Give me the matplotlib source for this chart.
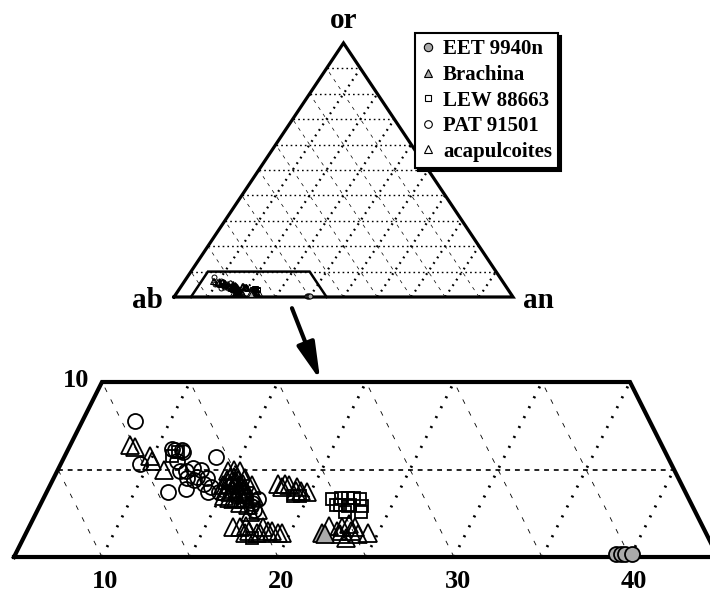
import numpy as np
import matplotlib.pyplot as plt
from matplotlib.lines import Line2D

plt.rcParams['font.family'] = 'Liberation Serif'
plt.rcParams['font.weight'] = 'bold'
plt.rcParams['lines.scale_dashes'] = False

# feldspar compositions in mol %, ab = 100 - an - or
eet_an = [39.1, 39.4, 39.6, 40.0]
eet_or = [0.2, 0.2, 0.2, 0.2]

brachina_an = [21.8, 22.0]
brachina_or = [1.4, 1.3]

lew_an = [11.1, 11.3, 19.1, 19.5, 21.4, 21.9, 22.3, 22.6, 23.0, 23.3, 23.4,
          22.0, 22.5, 22.5, 21.8, 18.0, 22.6]
lew_or = [5.8, 6.0, 3.5, 3.5, 3.3, 3.4, 3.4, 3.4, 3.3, 2.9, 2.6,
          3.0, 2.9, 2.6, 3.0, 1.1, 3.0]

pat_an = [8.0, 9.5, 11.9, 10.9, 11.5, 11.1, 11.6, 12.6, 12.3, 12.0, 12.6, 13.1,
          12.8, 13.1, 13.7, 13.7, 14.2, 13.6, 14.2, 14.8, 16.4, 17.0, 17.0, 17.2,
          17.3, 13.0, 11.5]
pat_or = [7.8, 5.3, 3.7, 6.2, 6.1, 6.1, 6.0, 5.1, 4.9, 4.9, 4.5, 4.6,
          3.9, 5.0, 4.5, 4.2, 3.7, 5.7, 4.0, 3.7, 3.5, 2.9, 3.1, 3.3,
          2.7, 4.4, 5.5]

aca_an = [8.4, 8.7, 9.8, 10.1, 11.0,
          14.8, 14.9, 15.0, 15.2, 15.5, 15.9, 15.1, 15.4, 15.5, 15.8, 16.1, 16.3,
          15.5, 15.8, 15.9, 16.3, 16.4, 16.8, 15.2, 15.2, 15.4, 15.8, 16.1, 16.5,
          16.5, 14.7, 15.0, 15.4, 15.9, 16.9, 17.5, 17.1,
          16.6, 17.0, 17.3, 17.6, 18.1, 18.3, 18.7, 18.9, 19.3, 19.5, 18.3, 17.4,
          17.9, 18.3, 18.6, 19.1, 19.4, 19.8, 18.2, 19.1,
          22.0, 22.6, 22.8, 23.1, 23.4, 23.5, 24.4, 23.3, 23.9, 22.9]
aca_or = [6.4, 6.3, 5.8, 5.5, 5.0,
          4.1, 4.4, 4.5, 4.6, 4.4, 4.2, 3.8, 3.7, 3.9, 3.8, 3.6, 3.7,
          3.4, 3.3, 3.4, 3.1, 3.3, 3.0, 3.5, 4.2, 4.3, 4.1, 3.9, 3.4,
          4.1, 4.9, 5.0, 4.9, 4.5, 3.5, 2.7, 2.6,
          1.7, 1.7, 1.8, 1.5, 1.4, 1.7, 1.5, 1.5, 1.4, 1.4, 1.4, 1.4,
          4.2, 4.2, 4.1, 4.0, 3.8, 3.7, 4.0, 3.8,
          1.8, 1.5, 1.7, 1.9, 1.5, 1.7, 1.4, 1.1, 1.3, 1.3]

GRAY = '#aaaaaa'
# name, an, or, marker, fill, size in the enlarged panel
series = [
    ('acapulcoites', aca_an, aca_or, '^', 'none', 12.5),
    ('PAT 91501', pat_an, pat_or, 'o', 'none', 10.8),
    ('LEW 88663', lew_an, lew_or, 's', 'none', 8.8),
    ('Brachina', brachina_an, brachina_or, '^', GRAY, 12.5),
    ('EET 9940n', eet_an, eet_or, 'o', GRAY, 10.8),
]


def tern(an, orr):
    # plot coordinates: x along the ab-an edge, y = or
    an = np.asarray(an, float)
    orr = np.asarray(orr, float)
    return an + orr / 2, orr


def seg(ax, p0, p1, **kw):
    x, y = tern([p0[0], p1[0]], [p0[1], p1[1]])
    ax.plot(x, y, color='k', solid_capstyle='butt', **kw)


W, H = 710, 595
fig = plt.figure(figsize=(W / 100, H / 100), dpi=100)


def box(x0, y0, x1, y1):
    return [x0 / W, 1 - y1 / H, (x1 - x0) / W, (y1 - y0) / H]


thick_dot = dict(lw=1.6, dashes=(1.3, 3.5))
thin_dash = dict(lw=0.5, dashes=(2.5, 3.5))
hdot = dict(lw=1.0, dashes=(1.2, 2.2))

# ---- full ternary diagram ----
ax_top = fig.add_axes(box(174, 43, 513, 297))
ax_top.set_xlim(0, 100)
ax_top.set_ylim(0, 100)
ax_top.axis('off')

for c in range(10, 100, 10):
    seg(ax_top, (0, c), (100 - c, c), clip_on=False, **hdot)
    seg(ax_top, (c, 0), (c, 100 - c), clip_on=False, **thick_dot)
    seg(ax_top, (c, 0), (0, c), clip_on=False, **thin_dash)

tx, ty = tern([0, 100, 0, 0], [0, 0, 100, 0])
ax_top.plot(tx, ty, color='k', lw=2.3, clip_on=False, solid_joinstyle='miter')

# outline of the enlarged region
zx, zy = tern([5, 5, 35, 45], [0, 10, 10, 0])
ax_top.plot(zx, zy, color='k', lw=1.8, clip_on=False, solid_joinstyle='miter')

for name, an, orr, m, fc, ms in series:
    x, y = tern(an, orr)
    ax_top.plot(x, y, ls='none', marker=m, ms=ms * 0.33, mfc=fc, mec='k',
                mew=0.7, clip_on=False)

ax_top.text(50, 100 + 9, 'or', ha='center', va='center', fontsize=21)
ax_top.text(-3.3, -1.5, 'ab', ha='right', va='center', fontsize=21)
ax_top.text(103, -1.5, 'an', ha='left', va='center', fontsize=21)

# ---- enlarged low-or region ----
ax_bot = fig.add_axes(box(0, 364, 710, 595))
ax_bot.set_xlim(4.205, 44.545)
ax_bot.set_ylim(-2.171, 11.029)
ax_bot.axis('off')

for c in range(10, 45, 5):
    seg(ax_bot, (c, 0), (c, min(10, 45 - c)), lw=2.0, dashes=(1.5, 6.5))
    h = min(10, c - 5)
    seg(ax_bot, (c, 0), (c - h, h), lw=0.6, dashes=(3.5, 6))
seg(ax_bot, (5, 5), (40, 5), lw=1.2, dashes=(3.5, 3.5))

bx, by = tern([5, 5, 35, 45, 5], [0, 10, 10, 0, 0])
ax_bot.plot(bx, by, color='k', lw=3.0, solid_joinstyle='miter')

for name, an, orr, m, fc, ms in series:
    x, y = tern(an, orr)
    ax_bot.plot(x, y, ls='none', marker=m, ms=ms, mfc=fc, mec='k',
                mew=1.3, clip_on=False)

for v in [10, 20, 30, 40]:
    ax_bot.text(v + 0.2, -1.4, str(v), ha='center', va='center', fontsize=19)
ax_bot.text(9.3, 10.1, '10', ha='right', va='center', fontsize=19)

# arrow from the outlined region down to the enlargement
ax_bot.annotate('', xy=(22.4, 10.1), xycoords='data',
                xytext=(34.8, -4.4), textcoords=ax_top.transData,
                arrowprops=dict(arrowstyle='-|>,head_length=0.9,head_width=0.22',
                                lw=3.0, color='k', mutation_scale=25,
                                shrinkA=0, shrinkB=0))

# legend
handles = [
    Line2D([], [], ls='none', marker='o', ms=6, mfc=GRAY, mec='k', mew=0.8),
    Line2D([], [], ls='none', marker='^', ms=6, mfc=GRAY, mec='k', mew=0.8),
    Line2D([], [], ls='none', marker='s', ms=5, mfc='none', mec='k', mew=0.8),
    Line2D([], [], ls='none', marker='o', ms=5.5, mfc='none', mec='k', mew=0.8),
    Line2D([], [], ls='none', marker='^', ms=5.5, mfc='none', mec='k', mew=0.8),
]
labels = ['EET 9940n', 'Brachina', 'LEW 88663', 'PAT 91501', 'acapulcoites']
leg = fig.legend(handles, labels, loc='upper left',
                 bbox_to_anchor=(415 / W, 1 - 33 / H), borderaxespad=0,
                 prop={'family': 'Liberation Serif', 'weight': 'bold', 'size': 15},
                 handlelength=0.6, handletextpad=0.45, labelspacing=0.27,
                 borderpad=0.3, fancybox=False, framealpha=1,
                 shadow={'color': 'k', 'alpha': 1})
leg.get_frame().set_edgecolor('k')
leg.get_frame().set_linewidth(1.5)

fig.savefig('out.png', dpi=100)
